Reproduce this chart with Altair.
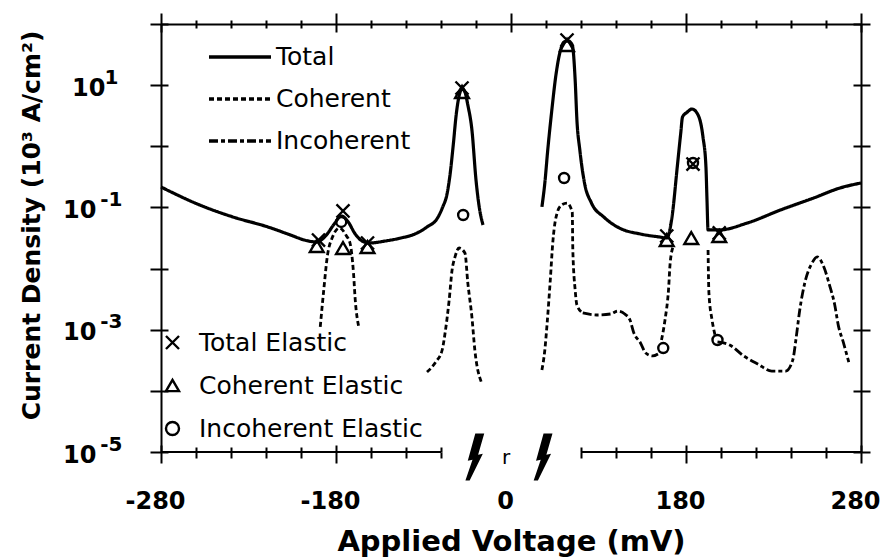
import altair as alt
import pandas as pd

# ---------------- data (voltage in mV, current density in 10^3 A/cm^2) ----------------
# Total current, left of the axis break
total_left_v = [-280, -258, -239, -219, -206, -198, -191, -186, -181, -177, -173, -169, -165, -161,
                -152, -143, -135, -128, -122, -117, -110, -105, -99, -94, -89, -84, -79, -74,
                -67, -60, -55, -48]
total_left_j = [0.216, 0.110, 0.070, 0.048, 0.0354, 0.0293, 0.0272, 0.0341, 0.0536, 0.0724, 0.0578,
                0.0367, 0.0282, 0.0262, 0.0282, 0.0316, 0.0367, 0.0479, 0.0671, 0.102, 0.160, 0.315,
                1.05, 3.25, 6.64, 8.65, 7.73, 4.73, 1.85, 0.281, 0.110, 0.0516]
# Total current, right of the axis break
total_right_v = [53, 58, 63, 70, 77, 84, 91, 98, 105, 110, 113, 118, 122, 126, 133, 142, 154, 165,
                 169, 172, 175, 177, 178, 180.6, 183.4, 186.9, 189.7, 191.4, 192.0, 192.6, 199, 215,
                 234, 253, 268, 280]
total_right_j = [0.102, 0.251, 0.869, 3.92, 14.6, 34.8, 50.8, 52.8, 45.4, 12.1, 2.69, 0.869, 0.251,
                 0.118, 0.0697, 0.046, 0.0367, 0.0328, 0.0316, 0.0697, 0.458, 1.65, 3.01, 3.6, 4.07,
                 3.25, 1.42, 0.458, 0.132, 0.0428, 0.0428, 0.0556, 0.0908, 0.143, 0.208, 0.251]

# Coherent current (resonance peaks)
coh_a_v = [-189, -187, -185, -182, -178, -174, -172, -170, -169, -167]
coh_a_j = [0.00111, 0.00446, 0.0155, 0.0328, 0.046, 0.0341, 0.0262, 0.00846, 0.00306, 0.00111]
coh_b_v = [-128, -123, -118, -113, -106, -101, -96, -89, -79, -74, -67, -62, -51]
coh_b_j = [2.03e-4, 2.96e-4, 4.66e-4, 8.83e-4, 3.06e-3, 9.46e-3, 0.0155, 0.0217, 0.0180, 5.8e-3,
           1.61e-3, 4.66e-4, 1.40e-4]
coh_c_v = [53, 58, 62, 67, 72, 79, 87, 96, 105, 106, 110, 113, 121]
coh_c_j = [2.19e-4, 4.66e-4, 1.29e-3, 5.8e-3, 0.0293, 0.081, 0.110, 0.118, 0.0841, 0.0201, 4.46e-3,
           2.54e-3, 1.88e-3]
coh_d_v = [166, 168, 170, 171, 173]
coh_d_j = [6.8e-4, 1.44e-3, 4.46e-3, 0.0128, 0.0243]
coh_e_v = [192.6, 193.1, 194.9, 196.6]
coh_e_j = [0.0201, 3.98e-3, 1.44e-3, 8.19e-4]

# Incoherent current
inc_a_v = [121, 129, 137, 141, 145, 148, 150, 154, 157, 161, 164]
inc_a_j = [1.88e-3, 1.74e-3, 1.81e-3, 2.02e-3, 1.81e-3, 1.44e-3, 9.18e-4, 6.07e-4, 4.16e-4,
           3.72e-4, 4.01e-4]
inc_b_v = [198, 205, 213, 221, 229, 237, 241, 243, 245, 248, 252, 255, 259, 262, 265, 267, 270, 273]
inc_b_j = [6.3e-4, 5.62e-4, 3.72e-4, 2.75e-4, 2.11e-4, 2.11e-4, 3.19e-4, 7.6e-4, 2.1e-3, 6.03e-3,
           0.0123, 0.0155, 0.0102, 5.38e-3, 2.54e-3, 1.19e-3, 6.07e-4, 2.96e-4]

# Elastic components (symbols)
total_el_v = [-190, -176, -162, -84, 96, 169, 184, 199]
total_el_j = [0.0293, 0.0875, 0.0262, 8.98, 54.7, 0.0341, 0.513, 0.0382]
coh_el_v = [-191, -176, -162, -84, 96, 169, 183, 199]
coh_el_j = [0.0234, 0.0217, 0.0225, 7.73, 45.4, 0.0293, 0.0316, 0.0341]
inc_el_v = [-177, -82, 91, 184, 167, 198]
inc_el_j = [0.0578, 0.0752, 0.303, 0.533, 5.02e-4, 6.79e-4]

# Axis pieces
x_label_values = [-280, -180, 0, 180, 280]
x_major_values = [-280, -180, 0, 180, 280]
x_ticks_bottom = list(range(-280, -119, 20)) + list(range(120, 281, 20))
x_ticks_top = x_ticks_bottom + [-60, 0, 60]
y_decades = [1e-5, 1e-4, 1e-3, 1e-2, 1e-1, 1, 10, 100]
y_labelled = [10, 0.1, 1e-3, 1e-5]
axis_seg_start = [-280, 120]
axis_seg_end = [-120, 280]
break_v = [-62, 55]
zero_v = [0]

line_series = ["Total", "Coherent", "Incoherent"]
marker_series = ["Total Elastic", "Coherent Elastic", "Incoherent Elastic"]


def frame(v, j, series, seg):
    return pd.DataFrame({"V": v, "J": j, "series": series, "seg": seg})


total_df = pd.concat([frame(total_left_v, total_left_j, "Total", "t1"),
                      frame(total_right_v, total_right_j, "Total", "t2")])
partial_df = pd.concat([
    frame(coh_a_v, coh_a_j, "Coherent", "c1"),
    frame(coh_b_v, coh_b_j, "Coherent", "c2"),
    frame(coh_c_v, coh_c_j, "Coherent", "c3"),
    frame(coh_d_v, coh_d_j, "Coherent", "c4"),
    frame(coh_e_v, coh_e_j, "Coherent", "c5"),
    frame(inc_a_v, inc_a_j, "Incoherent", "i1"),
    frame(inc_b_v, inc_b_j, "Incoherent", "i2"),
])
tot_el_df = pd.DataFrame({"V": total_el_v, "J": total_el_j, "marker": "Total Elastic"})
coh_el_df = pd.DataFrame({"V": coh_el_v, "J": coh_el_j, "marker": "Coherent Elastic"})
inc_el_df = pd.DataFrame({"V": inc_el_v, "J": inc_el_j, "marker": "Incoherent Elastic"})
seg_df = pd.DataFrame({"V": axis_seg_start, "V2": axis_seg_end, "J": [1e-5, 1e-5]})
break_df = pd.DataFrame({"V": break_v, "J": [1e-5] * len(break_v)})
zero_df = pd.DataFrame({"V": zero_v, "J": [1e-5]})

# ---------------- scales ----------------
W, H = 700, 428
# broken voltage axis: the region between -120 and 120 mV is compressed
x_scale = alt.Scale(domain=[-280, -120, 120, 280], range=[0, 280, 420, 700], nice=False, zero=False)
y_scale = alt.Scale(type="log", domain=[1e-5, 100], nice=False)

dash_scale = alt.Scale(domain=line_series, range=[[1, 0], [5, 3], [9, 3, 4, 3]])
X_PATH = "M-1,-1L1,1M-1,1L1,-1"
shape_scale = alt.Scale(domain=marker_series, range=[X_PATH, "triangle-up", "circle"])
BOLT = "M0.02,-1L0.40,-1L0.14,-0.1L0.34,-0.14L-0.22,1L-0.40,1L-0.10,0.12L-0.30,0.16Z"

FONT = "DejaVu Sans"


def tick_axis(orient, values, minor, major=None, majors=None, offset=0, domain=False):
    size = minor
    if majors is not None:
        size = {"condition": {"test": f"indexof({majors}, datum.value) >= 0", "value": major},
                "value": minor}
    kw = dict(orient=orient, values=values, labels=False, title=None, grid=False, domain=domain,
              ticks=True, tickSize=size, tickWidth=2, tickColor="black",
              domainColor="black", domainWidth=2)
    if offset:
        kw["offset"] = offset
    return alt.Axis(**kw)


ax_x_labels = alt.Axis(
    orient="bottom", values=x_label_values, labelExpr="'' + datum.value", ticks=False, tickSize=0,
    domain=False, grid=False, labelPadding=56, labelBaseline="alphabetic", labelOffset=-6,
    labelFont=FONT, labelFontWeight="bold", labelFontSize=24, labelColor="black",
    labelFlush=False, labelOverlap=False,
    title="Applied Voltage (mV)", titleFont=FONT, titleFontWeight="bold", titleFontSize=29,
    titleColor="black", titleY=98, titleBaseline="alphabetic", titleAnchor="middle",
)
ax_y_base = alt.Axis(
    orient="left", values=y_labelled, labelExpr="'10'", ticks=False, tickSize=0, domain=False,
    grid=False, labelBaseline="middle", labelOffset=3,
    labelPadding={"condition": {"test": "datum.value > 1", "value": 56}, "value": 65},
    labelFont=FONT, labelFontWeight="bold", labelFontSize=24, labelColor="black",
    labelFlush=False, labelOverlap=False,
    title="Current Density (10³ A/cm²)", titleFont=FONT, titleFontWeight="bold",
    titleFontSize=25, titleColor="black", titleAngle=270, titleX=-130, titleY=201,
    titleAlign="center", titleBaseline="middle",
)
ax_y_exp = alt.Axis(
    orient="left", values=y_labelled, labelExpr="'' + round(log(datum.value) / LN10)",
    ticks=False, tickSize=0, domain=False, grid=False, labelBaseline="middle", labelOffset=-8,
    labelPadding={"condition": {"test": "datum.value > 1", "value": 43}, "value": 39},
    labelFont=FONT, labelFontWeight="bold", labelFontSize=20, labelColor="black",
    labelFlush=False, labelOverlap=False, title=None,
)

ax_top_out = tick_axis("top", x_ticks_top, 4, 11, x_major_values, domain=True)
ax_top_in = tick_axis("bottom", x_ticks_top, 4, 8, x_major_values, offset=-H)
ax_bot_out = tick_axis("bottom", x_ticks_bottom, 6, 11, x_major_values)
ax_bot_in = tick_axis("top", x_ticks_bottom, 5, 7, x_major_values, offset=-H)
ax_left_out = tick_axis("left", y_decades, 11, domain=True)
ax_left_in = tick_axis("right", y_decades, 7, offset=-W)
ax_right_out = tick_axis("right", y_decades, 9, domain=True)
ax_right_in = tick_axis("left", y_decades, 8, offset=-W)

# long line samples; clipHeight keeps the rows compact
line_legend = alt.Legend(
    orient="none", legendX=46, legendY=20, title=None, symbolType="stroke", symbolSize=3844,
    symbolStrokeWidth=3.5, symbolStrokeColor="black", labelFont=FONT, labelFontSize=25,
    labelColor="black", labelOffset=3, clipHeight=26, rowPadding=16, padding=0, labelLimit=400,
)
marker_legend = alt.Legend(
    orient="none", legendX=-1, legendY=306, title=None, symbolSize=170, symbolStrokeWidth=2.4,
    symbolStrokeColor="black", labelFont=FONT, labelFontSize=25, labelColor="black",
    labelOffset=14, rowPadding=17, padding=0, labelLimit=400,
)


def xe(axis):
    return alt.X("V:Q", scale=x_scale, axis=axis)


def ye(axis):
    return alt.Y("J:Q", scale=y_scale, axis=axis)


total_line = alt.Chart(total_df).mark_line(color="black", strokeWidth=3.2, interpolate="monotone").encode(
    x=xe(ax_x_labels), y=ye(ax_y_base),
    strokeDash=alt.StrokeDash("series:N", scale=dash_scale, legend=line_legend),
    detail="seg:N",
)
partial_lines = alt.Chart(partial_df).mark_line(color="black", strokeWidth=2.8, interpolate="monotone").encode(
    x=xe(ax_top_out), y=ye(ax_y_exp),
    strokeDash=alt.StrokeDash("series:N", scale=dash_scale, legend=None),
    detail="seg:N",
)
tot_pts = alt.Chart(tot_el_df).mark_point(filled=False, color="black", strokeWidth=2.4, size=170, opacity=1).encode(
    x=xe(ax_bot_out), y=ye(ax_left_out),
    shape=alt.Shape("marker:N", scale=shape_scale, legend=marker_legend),
)
coh_pts = alt.Chart(coh_el_df).mark_point(filled=False, color="black", strokeWidth=2.4, size=190, opacity=1).encode(
    x=xe(ax_bot_in), y=ye(ax_left_in),
    shape=alt.Shape("marker:N", scale=shape_scale, legend=None),
)
inc_pts = alt.Chart(inc_el_df).mark_point(filled=False, color="black", strokeWidth=2.4, size=100, opacity=1).encode(
    x=xe(ax_top_in), y=ye(ax_right_out),
    shape=alt.Shape("marker:N", scale=shape_scale, legend=None),
)
axis_segments = alt.Chart(seg_df).mark_rule(color="black", strokeWidth=2).encode(
    x=xe(None), x2="V2:Q", y=ye(ax_right_in),
)
break_marks = alt.Chart(break_df).mark_point(shape=BOLT, filled=True, color="black", size=2209,
                                              opacity=1, strokeWidth=0, yOffset=5).encode(
    x=xe(None), y=ye(None),
)
zero_mark = alt.Chart(zero_df).mark_text(text="r", font=FONT, fontSize=20, color="black",
                                          baseline="alphabetic", dx=-5, dy=12).encode(
    x=xe(None), y=ye(None),
)

chart = alt.layer(
    total_line, partial_lines, tot_pts, coh_pts, inc_pts, axis_segments, break_marks, zero_mark
).resolve_axis(x="independent", y="independent").properties(
    width=W, height=H,
    padding={"left": 161, "top": 24, "right": 21, "bottom": 107},
    autosize=alt.AutoSizeParams(type="none"),
    background="white",
).configure_view(stroke=None)

chart.save("out.html", embed_options={"renderer": "svg", "actions": False})
